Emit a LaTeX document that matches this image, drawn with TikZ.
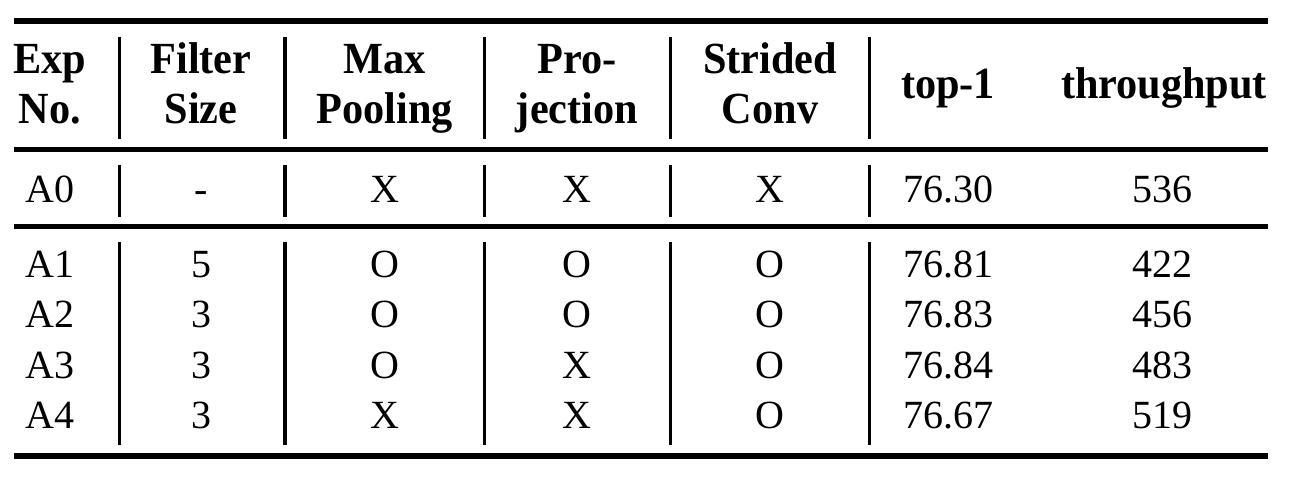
\documentclass[tikz,border=0pt]{standalone}
\usepackage{fontspec}
\setmainfont{Liberation Serif}
\newfontfamily\hdfont[FakeStretch=0.95]{Liberation Serif}
\begin{document}
\begin{tikzpicture}[x=1pt,y=-1pt,
  hd/.style={font=\hdfont\bfseries\fontsize{44.5}{50}\selectfont, inner sep=0pt, anchor=base},
  cell/.style={font=\fontsize{40}{50}\selectfont, inner sep=0pt, anchor=base},
  hrulestyle/.style={line width=5.5pt},
  vrulestyle/.style={line width=3.3pt}]
\useasboundingbox (0,0) rectangle (1290,478);
% horizontal rules
\coordinate (r1l) at (14,21);    \coordinate (r1r) at (1268,21);
\coordinate (r2l) at (14,149.5); \coordinate (r2r) at (1268,149.5);
\coordinate (r3l) at (14,226.5); \coordinate (r3r) at (1268,226.5);
\coordinate (r4l) at (14,456);   \coordinate (r4r) at (1268,456);
\draw[hrulestyle] (r1l) -- (r1r);
\draw[hrulestyle] (r2l) -- (r2r);
\draw[hrulestyle] (r3l) -- (r3r);
\draw[hrulestyle] (r4l) -- (r4r);
% vertical rules
\foreach \x in {119.5,285,484.5,670.5,869.5}{
  \draw[vrulestyle] (\x,37) -- (\x,139);
  \draw[vrulestyle] (\x,165) -- (\x,217);
  \draw[vrulestyle] (\x,242) -- (\x,445);
}
% header
\node[hd] (h1a) at (50,74) {Exp};
\node[hd] (h1b) at (50,124) {No.};
\node[hd] (h2a) at (201,74) {Filter};
\node[hd] (h2b) at (201,124) {Size};
\node[hd] (h3a) at (385,74) {Max};
\node[hd] (h3b) at (385,124) {Pooling};
\node[hd] (h4a) at (577,74) {Pro-};
\node[hd] (h4b) at (577,124) {jection};
\node[hd] (h5a) at (770,74) {Strided};
\node[hd] (h5b) at (770,124) {Conv};
\node[hd] (h6) at (948,99) {top-1};
\node[hd] (h7) at (1164,99) {throughput};
% A0 row
\node[cell] (a0c1) at (50,202.5) {A0};
\node[cell] (a0c2) at (201,202.5) {-};
\node[cell] (a0c3) at (385,202.5) {X};
\node[cell] (a0c4) at (577,202.5) {X};
\node[cell] (a0c5) at (770,202.5) {X};
\node[cell] (a0c6) at (948,202.5) {76.30};
\node[cell] (a0c7) at (1162,202.5) {536};
% body rows
\foreach \n/\f/\m/\p/\s/\t/\r [count=\i from 0] in
  {A1/5/O/O/O/76.81/422, A2/3/O/O/O/76.83/456, A3/3/O/X/O/76.84/483, A4/3/X/X/O/76.67/519}{
  \pgfmathsetmacro\yb{277.5+50.3*\i}
  \node[cell] (b\i c1) at (50,\yb) {\n};
  \node[cell] (b\i c2) at (201,\yb) {\f};
  \node[cell] (b\i c3) at (385,\yb) {\m};
  \node[cell] (b\i c4) at (577,\yb) {\p};
  \node[cell] (b\i c5) at (770,\yb) {\s};
  \node[cell] (b\i c6) at (948,\yb) {\t};
  \node[cell] (b\i c7) at (1162,\yb) {\r};
}
\end{tikzpicture}
\end{document}
